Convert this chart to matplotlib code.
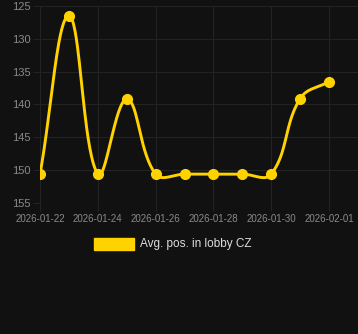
import numpy as np
import matplotlib
matplotlib.use("Agg")
import matplotlib.pyplot as plt
import matplotlib.dates as mdates
from datetime import date

dates = ["2026-01-22", "2026-01-23", "2026-01-24", "2026-01-25", "2026-01-26", "2026-01-27",
         "2026-01-28", "2026-01-29", "2026-01-30", "2026-01-31", "2026-02-01"]
values = [150.6, 126.5, 150.6, 139.2, 150.6, 150.6, 150.6, 150.6, 150.6, 139.1, 136.5]
label = "Avg. pos. in lobby CZ"

bg = "#111111"
gold = "#FFD200"
grid_c = "#232323"
tick_c = "#8a8a8a"

plt.rcParams['font.family'] = ['Liberation Sans', 'DejaVu Sans']

x = mdates.date2num([date.fromisoformat(d) for d in dates])
y = np.array(values, dtype=float)

# cardinal spline like chart.js (tension 0.4), done in approx pixel space
sx, sy = 28.9, 6.57
px, py = x * sx, y * sy
t = 0.4
n = len(px)
cp_prev = np.zeros((n, 2))
cp_next = np.zeros((n, 2))
for i in range(n):
    p0 = np.array([px[max(i - 1, 0)], py[max(i - 1, 0)]])
    p1 = np.array([px[i], py[i]])
    p2 = np.array([px[min(i + 1, n - 1)], py[min(i + 1, n - 1)]])
    d01 = np.hypot(*(p1 - p0))
    d12 = np.hypot(*(p2 - p1))
    tot = d01 + d12
    s01 = d01 / tot if tot else 0
    s12 = d12 / tot if tot else 0
    cp_prev[i] = p1 - t * s01 * (p2 - p0)
    cp_next[i] = p1 + t * s12 * (p2 - p0)

cx, cy = [], []
tt = np.linspace(0, 1, 40)
for i in range(n - 1):
    P0 = np.array([px[i], py[i]])
    P1 = cp_next[i]
    P2 = cp_prev[i + 1]
    P3 = np.array([px[i + 1], py[i + 1]])
    seg = ((1 - tt) ** 3)[:, None] * P0 + (3 * (1 - tt) ** 2 * tt)[:, None] * P1 \
        + (3 * (1 - tt) * tt ** 2)[:, None] * P2 + (tt ** 3)[:, None] * P3
    cx.extend(seg[:, 0] / sx)
    cy.extend(seg[:, 1] / sy)

fig = plt.figure(figsize=(3.58, 3.34), dpi=100, facecolor=bg)
ax = fig.add_axes([40 / 358, (334 - 203) / 334, 318 / 358, 197 / 334])
ax.set_facecolor(bg)

ax.plot(cx, cy, color=gold, lw=2.1, solid_capstyle='round', zorder=3)
ax.plot(x, y, 'o', color=gold, ms=7, zorder=4)

ax.set_ylim(155, 125)
ax.set_yticks([125, 130, 135, 140, 145, 150, 155])
x0 = mdates.date2num(date(2026, 1, 22))
ax.set_xlim(x0, x0 + 11)
ax.set_xticks([x0 + 2 * k for k in range(6)])
ax.xaxis.set_major_formatter(mdates.DateFormatter("%Y-%m-%d"))

ax.grid(True, color=grid_c, lw=0.8)
for s in ax.spines.values():
    s.set_visible(False)
ax.tick_params(axis='y', colors=tick_c, labelsize=8, length=5, width=0.8, color=grid_c, pad=2)
ax.tick_params(axis='x', colors=tick_c, labelsize=7, length=6, width=0.8, color=grid_c, pad=2)

# legend box + label
fig.patches.append(plt.Rectangle((94 / 358, 1 - 250 / 334), 40 / 358, 12 / 334,
                                 transform=fig.transFigure, color=gold, figure=fig))
fig.text(140 / 358, 1 - 244 / 334, label, color="#dddddd", fontsize=8.5, va='center', ha='left')

fig.savefig("out.png", dpi=100, facecolor=bg)
